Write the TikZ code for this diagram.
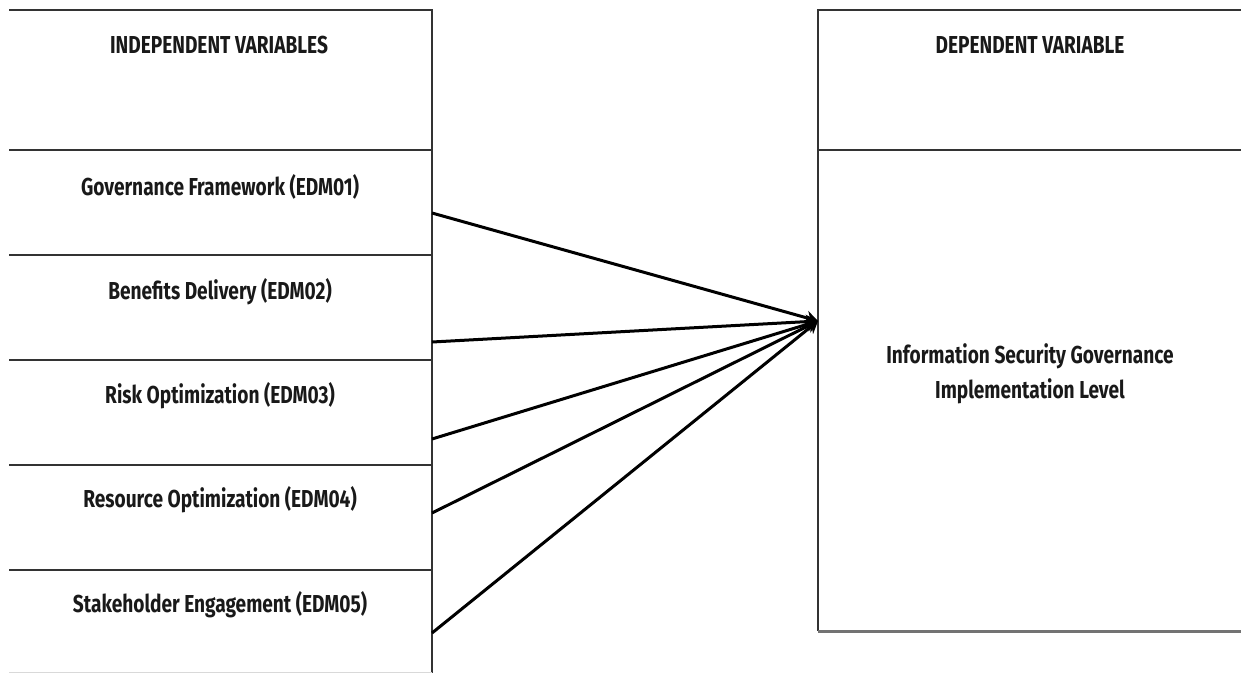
\documentclass[tikz,border=0pt]{standalone}
\usepackage{fontspec}
\setmainfont{Fira Sans}[FakeStretch=0.78]
\usetikzlibrary{arrows.meta}
\begin{document}
\begin{tikzpicture}[x=1pt,y=-1pt,
  frame/.style={line width=2pt,draw=black!80},
  lbl/.style={font=\bfseries\fontsize{24.5}{35}\selectfont,text=black!90,inner sep=0pt,align=center},
  conn/.style={line width=3pt,black,-{Stealth[length=12pt,width=14pt]},shorten >=0pt}]
\useasboundingbox[fill=white] (0,0) rectangle (1241,673);
% left table
\draw[frame] (9,10) -- (432,10) -- (432,673);
\foreach \yy in {150,255,360,465,570}{\draw[frame] (9,\yy) -- (432,\yy);}
\draw[line width=1pt,draw=black!15] (9,672) -- (432,672);
% right box
\draw[frame] (1241,10) -- (818,10) -- (818,631);
\draw[frame] (818,150) -- (1241,150);
\draw[line width=3pt,draw=black!55] (818,631) -- (1241,631);
% labels
\node[lbl] (iv) at (219,45) {INDEPENDENT VARIABLES};
\node[lbl] (e1) at (220,187) {Governance Framework (EDM01)};
\node[lbl] (e2) at (220,292) {Benefits Delivery (EDM02)};
\node[lbl] (e3) at (220,396) {Risk Optimization (EDM03)};
\node[lbl] (e4) at (220,500) {Resource Optimization (EDM04)};
\node[lbl] (e5) at (220,605) {Stakeholder Engagement (EDM05)};
\node[lbl] (dv) at (1030,45) {DEPENDENT VARIABLE};
\node[lbl] (isg) at (1030,374) {Information Security Governance\\Implementation Level};
% connector ends
\coordinate (s1) at (432,213);
\coordinate (s2) at (432,342);
\coordinate (s3) at (432,439);
\coordinate (s4) at (432,513);
\coordinate (s5) at (432,633);
\coordinate (t) at (818,321);
\foreach \s in {s1,s2,s3,s4,s5}{\draw[conn] (\s) -- (t);}
\end{tikzpicture}
\end{document}
